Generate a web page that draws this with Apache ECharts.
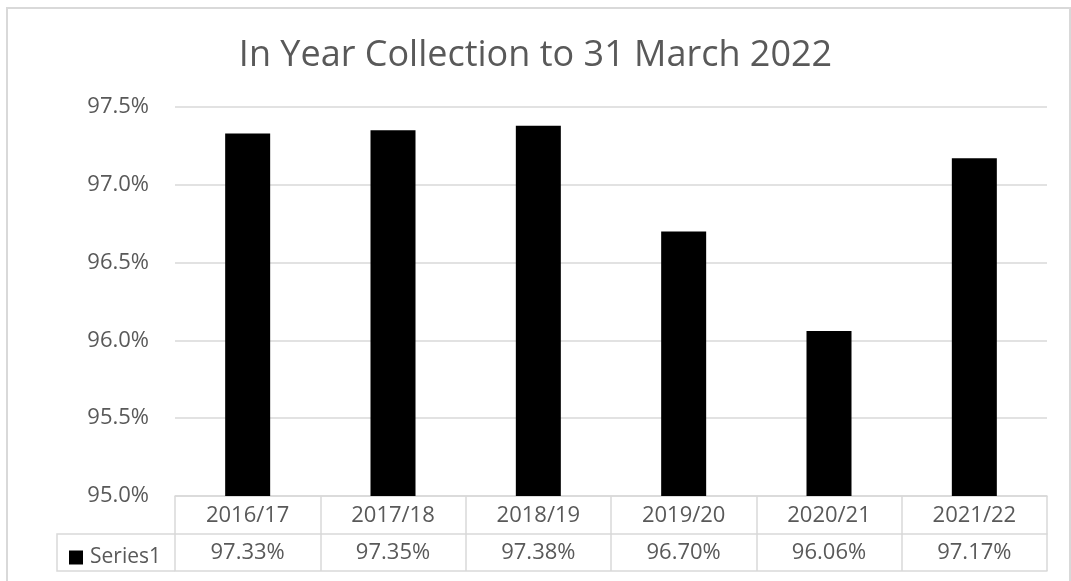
<!DOCTYPE html>
<html>
<head>
<meta charset="utf-8">
<script src="https://cdn.jsdelivr.net/npm/echarts@6/dist/echarts.min.js"></script>
<style>
  html, body { margin: 0; padding: 0; background: #fff; }
  #chart { width: 1071px; height: 581px; }
</style>
</head>
<body>
<div id="chart"></div>
<script>
// data
const years = ['2016/17', '2017/18', '2018/19', '2019/20', '2020/21', '2021/22']
const collection = [97.33, 97.35, 97.38, 96.70, 96.06, 97.17]
const seriesName = 'Series1'

const grey = '#d9d9d9'
const textGrey = '#595959'
const font = 'Open Sans'

const myChart = echarts.init(document.getElementById('chart'))

const option = {
  animation: false,
  title: {
    text: 'In Year Collection to 31 March 2022',
    left: 'center',
    top: 33,
    textStyle: { fontFamily: font, fontSize: 36, fontWeight: 'normal', color: textGrey }
  },
  legend: {
    left: 64,
    top: 542,
    itemWidth: 14,
    itemHeight: 14,
    itemGap: 6,
    icon: 'rect',
    textStyle: { fontFamily: font, fontSize: 21, color: textGrey, padding: [0, 0, 0, 2] },
    data: [seriesName]
  },
  grid: { left: 175, right: 24, top: 107, bottom: 85 },
  xAxis: [
    {
      type: 'category',
      data: years,
      axisLine: { lineStyle: { color: grey, width: 1.5 } },
      axisTick: { show: true, length: 75, lineStyle: { color: grey, width: 1.5 } },
      axisLabel: { margin: 9, fontFamily: font, fontSize: 22, color: textGrey }
    },
    {
      type: 'category',
      position: 'bottom',
      offset: 38,
      data: years,
      axisLine: { lineStyle: { color: grey, width: 1.5 } },
      axisTick: { show: false },
      axisLabel: {
        margin: 8,
        fontFamily: font, fontSize: 22, color: textGrey,
        formatter: (v, i) => collection[i].toFixed(2) + '%'
      }
    },
    {
      type: 'category',
      position: 'bottom',
      offset: 75,
      data: years,
      axisLine: { lineStyle: { color: grey, width: 1.5 } },
      axisTick: { show: false },
      axisLabel: { show: false }
    }
  ],
  yAxis: {
    type: 'value',
    min: 95,
    max: 97.5,
    interval: 0.5,
    axisLine: { show: false },
    axisTick: { show: false },
    splitLine: { lineStyle: { color: grey, width: 1.5 } },
    axisLabel: {
      margin: 26,
      fontFamily: font, fontSize: 22, color: textGrey,
      formatter: v => v.toFixed(1) + '%'
    }
  },
  series: [
    {
      name: seriesName,
      type: 'bar',
      barWidth: 45,
      itemStyle: { color: '#000' },
      data: collection
    }
  ],
  graphic: [
    // chart border
    {
      type: 'rect',
      shape: { x: 7, y: 8, width: 1063, height: 600 },
      style: { fill: null, stroke: grey, lineWidth: 2 },
      silent: true
    },
    // legend cell of the data table
    {
      type: 'polyline',
      shape: { points: [[175, 534], [57, 534], [57, 571], [175, 571]] },
      style: { fill: null, stroke: grey, lineWidth: 1.5 },
      silent: true
    }
  ]
}

myChart.setOption(option)
</script>
</body>
</html>
